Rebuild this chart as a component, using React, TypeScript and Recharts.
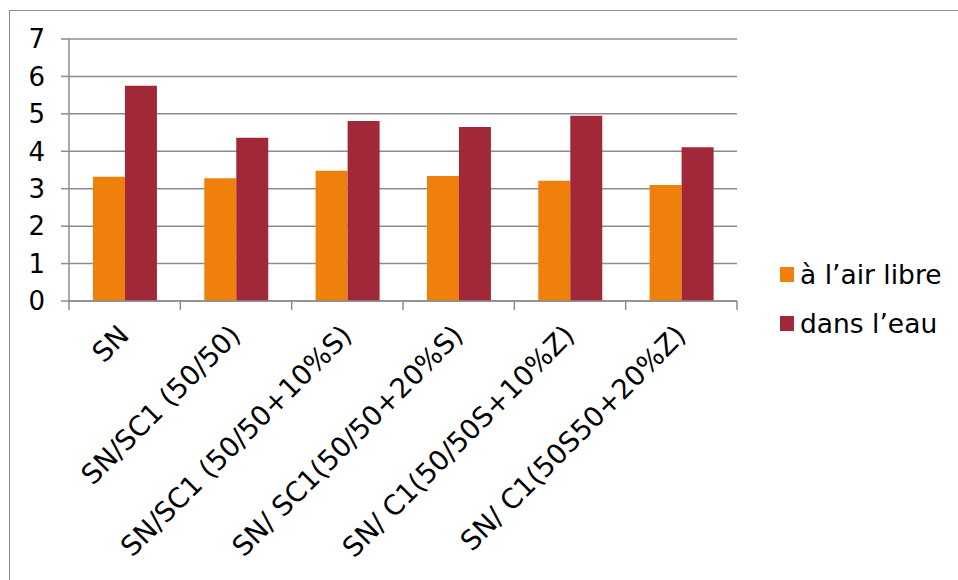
import React from 'react';
import { BarChart, Bar, XAxis, YAxis, CartesianGrid } from 'recharts';

// categories and values
const categories = [
  'SN',
  'SN/SC1 (50/50)',
  'SN/SC1 (50/50+10%S)',
  'SN/ SC1(50/50+20%S)',
  'SN/ C1(50/50S+10%Z)',
  'SN/ C1(50S50+20%Z)',
];
const airLibre = [3.32, 3.28, 3.48, 3.34, 3.21, 3.1];
const dansEau = [5.75, 4.36, 4.81, 4.65, 4.95, 4.11];
const yTicks = [0, 1, 2, 3, 4, 5, 6, 7];

const seriesNames = ['à l’air libre', 'dans l’eau'];
const colors = ['#EF800B', '#A12838'];
const gridColor = '#8c8c8c';
const font = 'Verdana, "DejaVu Sans", sans-serif';

const data = categories.map((name, i) => ({ name, air: airLibre[i], eau: dansEau[i] }));

// label rotated 45deg, plus Excel-style tick marks on the category boundaries
const SlantedTick = (props: any) => {
  const { x, y, payload, index, visibleTicksCount } = props;
  const half = payload.offset ?? 0;
  const last = index === visibleTicksCount - 1;
  return (
    <g>
      <line x1={x - half} x2={x - half} y1={y} y2={y + 9} stroke={gridColor} strokeWidth={1.5} />
      {last && <line x1={x + half} x2={x + half} y1={y} y2={y + 9} stroke={gridColor} strokeWidth={1.5} />}
      <g transform={`translate(${x + 6},${y + 36})`}>
        <text
          x={0}
          y={0}
          textAnchor="end"
          transform="rotate(-45)"
          fontFamily={font}
          fontSize={27.5}
          fill="#000"
        >
          {payload.value}
        </text>
      </g>
    </g>
  );
};

const App: React.FC = () => {
  return (
    <div style={{ position: 'absolute', left: 0, top: 0, width: 958, height: 580, background: '#fff', overflow: 'hidden' }}>
      <div
        style={{
          position: 'absolute',
          left: 9,
          top: 10,
          width: 970,
          height: 600,
          borderLeft: `1.5px solid ${gridColor}`,
          borderTop: `1.5px solid ${gridColor}`,
        }}
      />
      <BarChart
        width={958}
        height={580}
        data={data}
        margin={{ top: 39, right: 221, left: 0, bottom: 0 }}
        barCategoryGap="21.5%"
        barGap={0}
        style={{ position: 'absolute', left: 0, top: 0 }}
      >
        <CartesianGrid vertical={false} stroke={gridColor} strokeWidth={1.5} />
        <XAxis
          dataKey="name"
          interval={0}
          height={279}
          axisLine={{ stroke: gridColor, strokeWidth: 1.5 }}
          tickLine={false}
          tickSize={0}
          tickMargin={0}
          tick={<SlantedTick />}
        />
        <YAxis
          width={69}
          domain={[0, 7]}
          ticks={yTicks}
          interval={0}
          tickSize={8}
          tickMargin={16}
          axisLine={{ stroke: gridColor, strokeWidth: 1.5 }}
          tickLine={{ stroke: gridColor, strokeWidth: 1.5 }}
          tick={{ fill: '#000', fontSize: 26, fontFamily: font }}
        />
        <Bar dataKey="air" name={seriesNames[0]} fill={colors[0]} isAnimationActive={false} />
        <Bar dataKey="eau" name={seriesNames[1]} fill={colors[1]} isAnimationActive={false} />
      </BarChart>
      <div style={{ position: 'absolute', left: 780, top: 256, fontFamily: font, fontSize: 26.5, color: '#000' }}>
        {seriesNames.map((s, i) => (
          <div key={s} style={{ display: 'flex', alignItems: 'center', height: 36, marginBottom: 13, whiteSpace: 'nowrap' }}>
            <span style={{ display: 'inline-block', width: 14, height: 15, background: colors[i], marginRight: 6 }} />
            <span>{s}</span>
          </div>
        ))}
      </div>
    </div>
  );
};

export default App;
